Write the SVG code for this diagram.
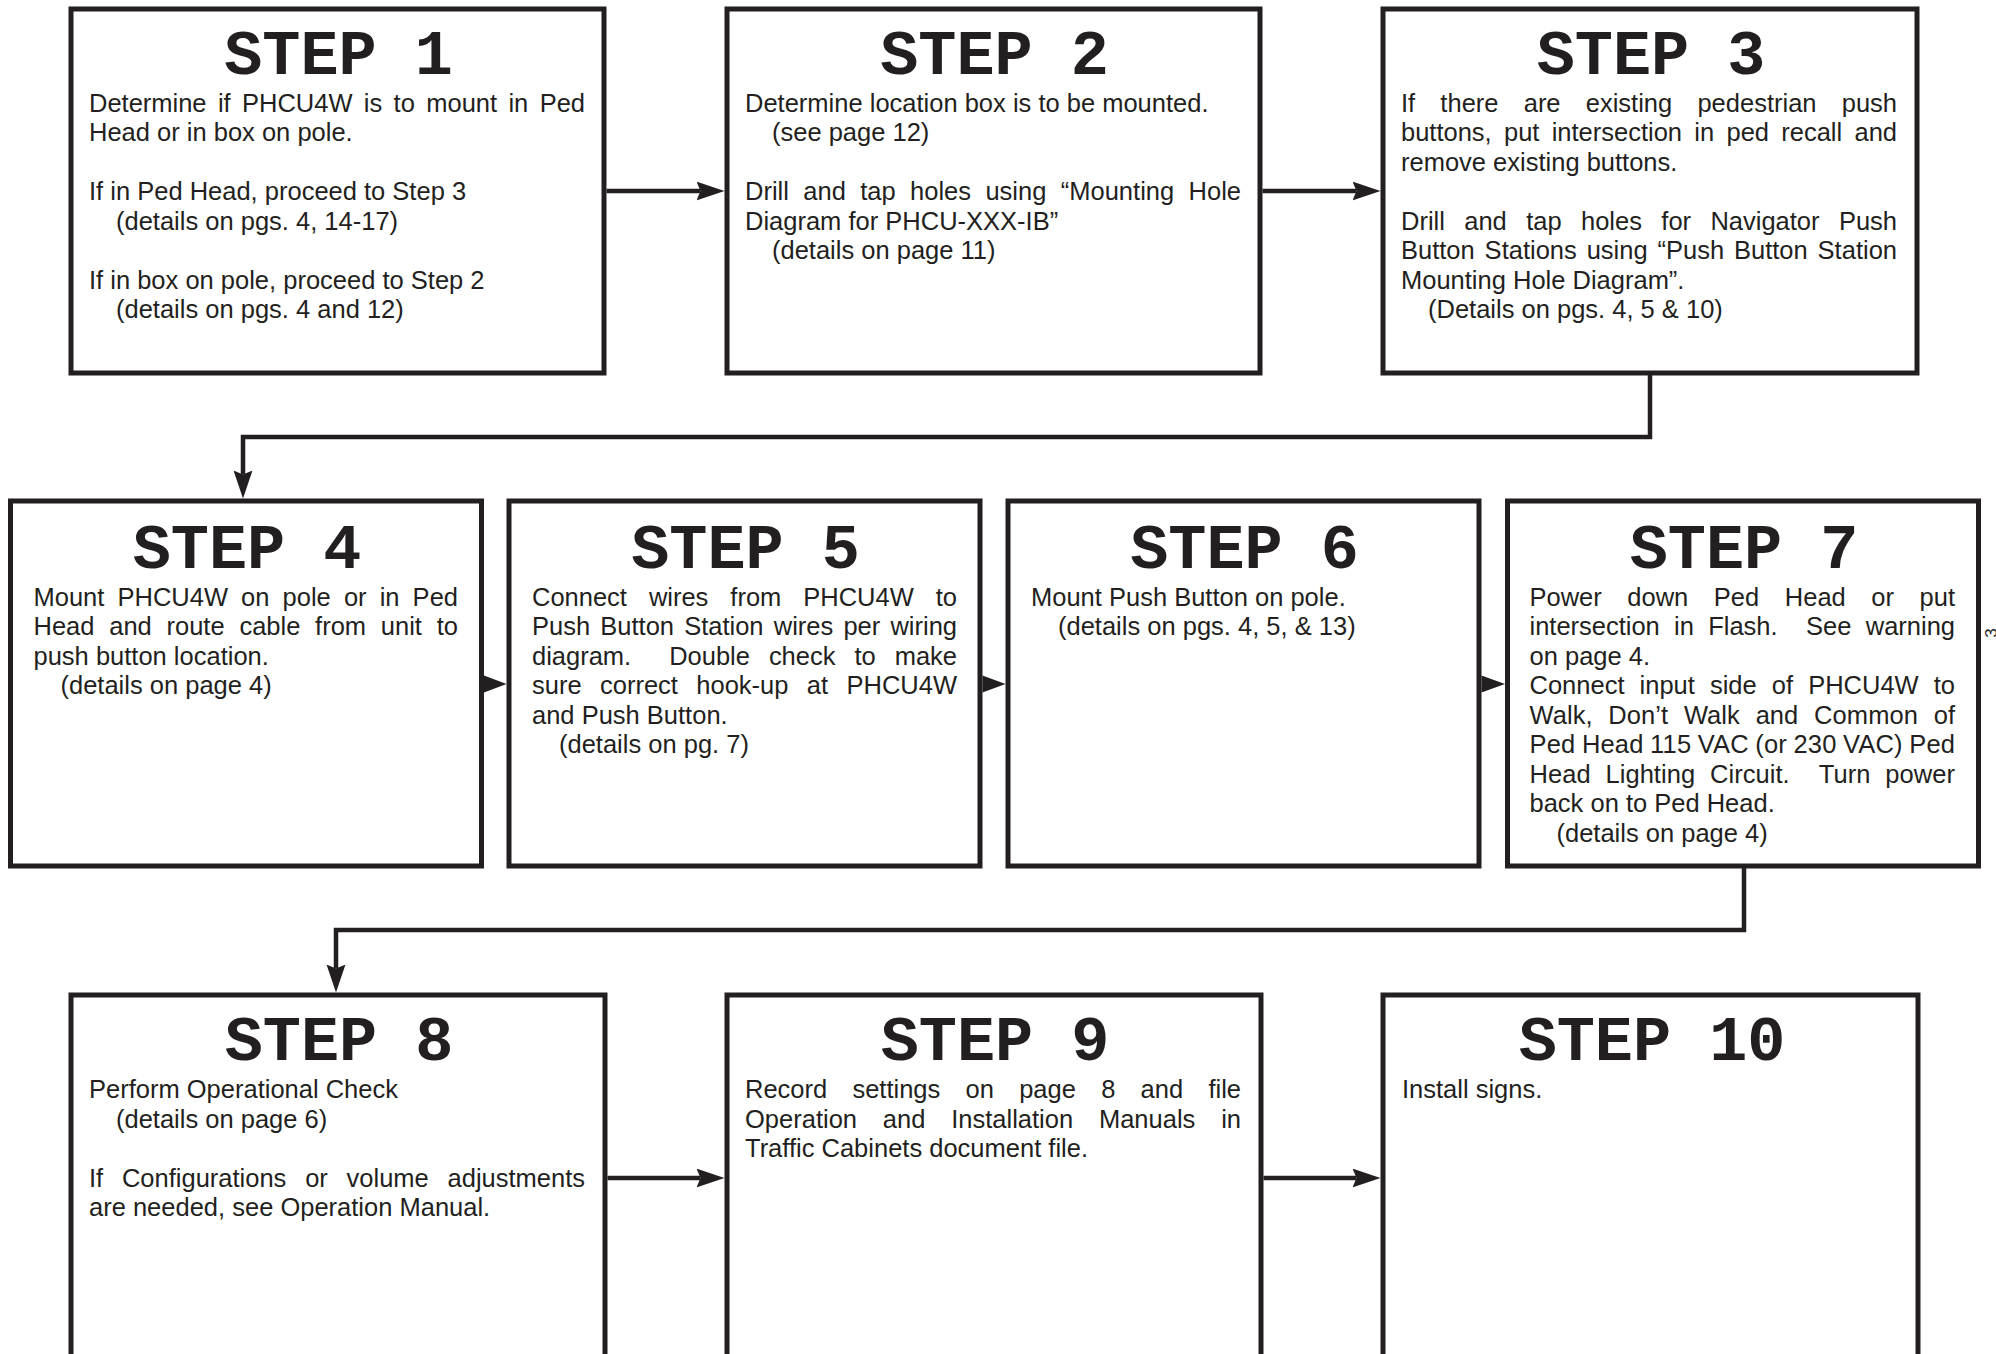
<svg xmlns="http://www.w3.org/2000/svg" width="1996" height="1354" viewBox="0 0 1996 1354">
<style>
.box{fill:#fff;stroke:#231f20;stroke-width:5}
.h{font-family:"Liberation Mono","Courier New",monospace;font-weight:bold;font-size:63.5px;fill:#231f20;text-anchor:middle}
.t{font-family:"Liberation Sans",Arial,sans-serif;font-size:25.5px;fill:#231f20}
.c{fill:none;stroke:#231f20;stroke-width:4.5}
.ah2{fill:#231f20}
</style>
<defs>
<marker id="ah" markerUnits="userSpaceOnUse" markerWidth="30" markerHeight="22" viewBox="0 -11 30 22" refX="4" refY="0" orient="auto"><path d="M0,-9.5 L28,0 L0,9.5 L4,0 Z" fill="#231f20"/></marker>
</defs>
<rect width="1996" height="1354" fill="#fff"/>
<g id="step1">
<rect class="box" x="71" y="9" width="533" height="364"/>
<text class="h" x="338.5" y="73.5">STEP 1</text>
<text class="t" x="89" y="111.5" textLength="496" lengthAdjust="spacing" style="word-spacing:4.3px">Determine if PHCU4W is to mount in Ped</text>
<text class="t" x="89" y="141">Head or in box on pole.</text>
<text class="t" x="89" y="200">If in Ped Head, proceed to Step 3</text>
<text class="t" x="116" y="229.5">(details on pgs. 4, 14-17)</text>
<text class="t" x="89" y="288.5">If in box on pole, proceed to Step 2</text>
<text class="t" x="116" y="318">(details on pgs. 4 and 12)</text>
</g>
<g id="step2">
<rect class="box" x="727" y="9" width="533" height="364"/>
<text class="h" x="994.5" y="73.5">STEP 2</text>
<text class="t" x="745" y="111.5">Determine location box is to be mounted.</text>
<text class="t" x="772" y="141">(see page 12)</text>
<text class="t" x="745" y="200" textLength="496" lengthAdjust="spacing" style="word-spacing:7.3px">Drill and tap holes using “Mounting Hole</text>
<text class="t" x="745" y="229.5">Diagram for PHCU-XXX-IB”</text>
<text class="t" x="772" y="259">(details on page 11)</text>
</g>
<g id="step3">
<rect class="box" x="1383" y="9" width="534" height="364"/>
<text class="h" x="1651" y="73.5">STEP 3</text>
<text class="t" x="1401" y="111.5" textLength="496" lengthAdjust="spacing" style="word-spacing:18.1px">If there are existing pedestrian push</text>
<text class="t" x="1401" y="141" textLength="496" lengthAdjust="spacing" style="word-spacing:5.2px">buttons, put intersection in ped recall and</text>
<text class="t" x="1401" y="170.5">remove existing buttons.</text>
<text class="t" x="1401" y="229.5" textLength="496" lengthAdjust="spacing" style="word-spacing:12.3px">Drill and tap holes for Navigator Push</text>
<text class="t" x="1401" y="259" textLength="496" lengthAdjust="spacing" style="word-spacing:2.8px">Button Stations using “Push Button Station</text>
<text class="t" x="1401" y="288.5">Mounting Hole Diagram”.</text>
<text class="t" x="1428" y="318">(Details on pgs. 4, 5 &amp; 10)</text>
</g>
<g id="step4">
<rect class="box" x="10.5" y="501" width="471" height="365"/>
<text class="h" x="247" y="568">STEP 4</text>
<text class="t" x="33.5" y="605.5" textLength="424.5" lengthAdjust="spacing" style="word-spacing:6px">Mount PHCU4W on pole or in Ped</text>
<text class="t" x="33.5" y="635" textLength="424.5" lengthAdjust="spacing" style="word-spacing:7.7px">Head and route cable from unit to</text>
<text class="t" x="33.5" y="664.5">push button location.</text>
<text class="t" x="60.5" y="694">(details on page 4)</text>
</g>
<g id="step5">
<rect class="box" x="509" y="501" width="471" height="365"/>
<text class="h" x="745.5" y="568">STEP 5</text>
<text class="t" x="532" y="605.5" textLength="425" lengthAdjust="spacing" style="word-spacing:14.9px">Connect wires from PHCU4W to</text>
<text class="t" x="532" y="635" textLength="425" lengthAdjust="spacing" style="word-spacing:3.1px">Push Button Station wires per wiring</text>
<text class="t" x="532" y="664.5" textLength="425" lengthAdjust="spacing" xml:space="preserve" style="word-spacing:11.9px">diagram.  Double check to make</text>
<text class="t" x="532" y="694" textLength="425" lengthAdjust="spacing" style="word-spacing:11.3px">sure correct hook-up at PHCU4W</text>
<text class="t" x="532" y="723.5">and Push Button.</text>
<text class="t" x="559" y="753">(details on pg. 7)</text>
</g>
<g id="step6">
<rect class="box" x="1008" y="501" width="471" height="365"/>
<text class="h" x="1244.5" y="568">STEP 6</text>
<text class="t" x="1031" y="605.5">Mount Push Button on pole.</text>
<text class="t" x="1058" y="635">(details on pgs. 4, 5, &amp; 13)</text>
</g>
<g id="step7">
<rect class="box" x="1507.5" y="501" width="471" height="365"/>
<text class="h" x="1744" y="568">STEP 7</text>
<text class="t" x="1529.5" y="605.5" textLength="425.5" lengthAdjust="spacing" style="word-spacing:18.5px">Power down Ped Head or put</text>
<text class="t" x="1529.5" y="635" textLength="425.5" lengthAdjust="spacing" xml:space="preserve" style="word-spacing:7.2px">intersection in Flash.  See warning</text>
<text class="t" x="1529.5" y="664.5">on page 4.</text>
<text class="t" x="1529.5" y="694" textLength="425.5" lengthAdjust="spacing" style="word-spacing:8px">Connect input side of PHCU4W to</text>
<text class="t" x="1529.5" y="723.5" textLength="425.5" lengthAdjust="spacing" style="word-spacing:8.6px">Walk, Don’t Walk and Common of</text>
<text class="t" x="1529.5" y="753" textLength="425.5" lengthAdjust="spacing" style="word-spacing:-0.8px">Ped Head 115 VAC (or 230 VAC) Ped</text>
<text class="t" x="1529.5" y="782.5" textLength="425.5" lengthAdjust="spacing" xml:space="preserve" style="word-spacing:7.7px">Head Lighting Circuit.  Turn power</text>
<text class="t" x="1529.5" y="812">back on to Ped Head.</text>
<text class="t" x="1556.5" y="841.5">(details on page 4)</text>
</g>
<g id="step8">
<rect class="box" x="71" y="995" width="534" height="420"/>
<text class="h" x="339" y="1059.5">STEP 8</text>
<text class="t" x="89" y="1098">Perform Operational Check</text>
<text class="t" x="116" y="1127.5">(details on page 6)</text>
<text class="t" x="89" y="1186.5" textLength="496" lengthAdjust="spacing" style="word-spacing:11.7px">If Configurations or volume adjustments</text>
<text class="t" x="89" y="1216">are needed, see Operation Manual.</text>
</g>
<g id="step9">
<rect class="box" x="727" y="995" width="534" height="420"/>
<text class="h" x="995" y="1059.5">STEP 9</text>
<text class="t" x="745" y="1098" textLength="496" lengthAdjust="spacing" style="word-spacing:18.2px">Record settings on page 8 and file</text>
<text class="t" x="745" y="1127.5" textLength="496" lengthAdjust="spacing" style="word-spacing:18.7px">Operation and Installation Manuals in</text>
<text class="t" x="745" y="1157">Traffic Cabinets document file.</text>
</g>
<g id="step10">
<rect class="box" x="1383" y="995" width="535" height="420"/>
<text class="h" x="1652" y="1059.5">STEP 10</text>
<text class="t" x="1402" y="1098">Install signs.</text>
</g>
<g id="connectors">
<path class="c" d="M606.5,191 H700.5" marker-end="url(#ah)"/>
<path class="c" d="M1262.5,191 H1356.5" marker-end="url(#ah)"/>
<path class="c" d="M1650,375 V437 H243 V474.5" marker-end="url(#ah)"/>
<path class="ah2" d="M484,675.5 L506.5,684 L484,692.5 Z"/>
<path class="ah2" d="M982.5,675.5 L1005.5,684 L982.5,692.5 Z"/>
<path class="ah2" d="M1481.5,675.5 L1505,684 L1481.5,692.5 Z"/>
<path class="c" d="M1744,868 V930 H336 V968.5" marker-end="url(#ah)"/>
<path class="c" d="M607.5,1178 H700.5" marker-end="url(#ah)"/>
<path class="c" d="M1263.5,1178 H1356.5" marker-end="url(#ah)"/>
</g>
<text class="t" style="font-size:17px" transform="translate(1997,633) rotate(-90)" text-anchor="middle">3</text>
</svg>
